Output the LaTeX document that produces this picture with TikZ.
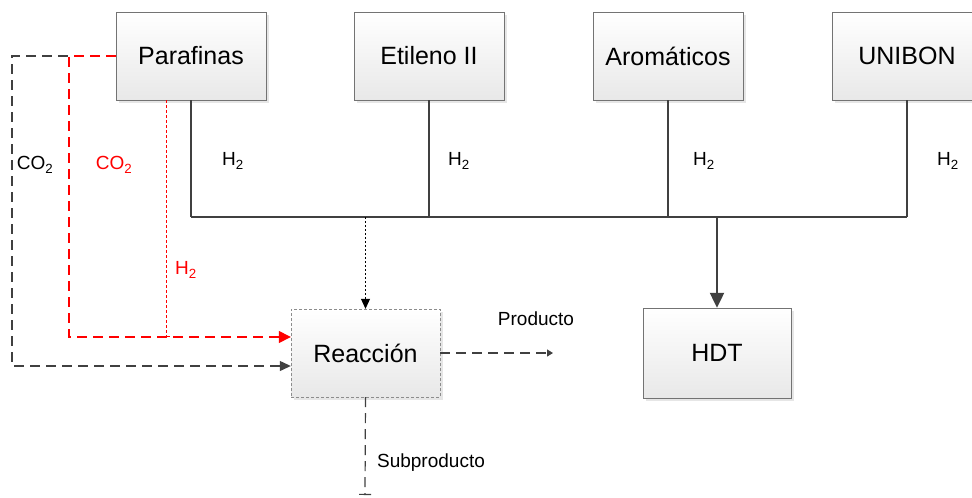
\documentclass[tikz,border=0pt]{standalone}
\usepackage{fontspec}
\setmainfont{Liberation Sans}
\usetikzlibrary{arrows.meta,shadows}

\tikzset{
  unit/.style={draw=black!55, top color=white, bottom color=black!9,
    minimum width=150pt, minimum height=88pt, font=\fontsize{25}{30}\selectfont,
    drop shadow={opacity=.2, shadow xshift=3pt, shadow yshift=-3pt}},
  unitdash/.style={unit, draw=black!45, dashed, dash pattern=on 3pt off 2pt},
  lbl/.style={font=\fontsize{19}{23}\selectfont},
  feed/.style={draw=black!75, line width=1.5pt},
  flow/.style={draw=black!75, line width=1.2pt, dash pattern=on 10pt off 6pt},
  redflow/.style={draw=red, line width=1.4pt, dash pattern=on 10pt off 6pt},
  reddot/.style={draw=red, line width=.9pt, dash pattern=on 3pt off 2pt},
}

\begin{document}
\begin{tikzpicture}[x=1pt,y=-1pt]
  \clip (0,0) rectangle (972,498);
  \node[unit] at (191,56) (parafinas) {Parafinas};
  \node[unit] at (429,56) (etileno) {Etileno II};
  \node[unit] at (668,56) (aromaticos) {Aromáticos};
  \node[unit] at (907,56) (unibon) {UNIBON};
  \node[unit, minimum width=148pt, minimum height=90pt] at (717,353) (hdt) {HDT};
  \node[unitdash, minimum width=149pt] at (365.5,353) (reaccion) {Reacción};
  \coordinate (bus) at (0,217);
  \coordinate (grayleft) at (12,56);
  \coordinate (redleft) at (69,56);
  \coordinate (prod) at (553,353);
  \coordinate (sub) at (365,495);
  \foreach \n in {parafinas,etileno,aromaticos,unibon} \draw[feed] (\n.south) -- (\n.south |- bus);
  \draw[feed] (parafinas |- bus) -- (unibon |- bus);
  \draw[feed, line width=2.2pt, -{Triangle[length=15pt,width=14pt]}] (hdt |- bus) -- (hdt.north);
  \draw[black, line width=.8pt, dash pattern=on 2pt off 2pt, -{Triangle[length=10pt,width=9pt]}] (reaccion |- bus) -- (reaccion.north);
  \draw[flow, -{Triangle[length=11pt,width=10pt]}] (parafinas.west) -- (grayleft) |- ([yshift=-13pt]reaccion.west);
  \draw[redflow, -{Triangle[length=12pt,width=12pt]}] (parafinas.west) -- (redleft) |- ([yshift=16pt]reaccion.west);
  \draw[reddot, -{Bar[width=7pt]}] ([xshift=-25pt]parafinas.south) -- ([xshift=-25pt]parafinas.south |- 0,337);
  \draw[flow, -{Triangle[length=6pt,width=7pt]}] (reaccion.east) -- (prod);
  \draw[flow, -{Bar[width=12pt]}] (reaccion.south) -- (sub);
  \foreach \x in {233,459,704,948} \node[lbl] at (\x,161) {H\textsubscript{2}};
  \node[lbl] at (35,165) (co2a) {CO\textsubscript{2}};
  \node[lbl, red] at (114,165) (co2b) {CO\textsubscript{2}};
  \node[lbl, red] at (186,270) (h2red) {H\textsubscript{2}};
  \node[lbl] at (536,319) (producto) {Producto};
  \node[lbl] at (431,463) (subproducto) {Subproducto};
\end{tikzpicture}
\end{document}
